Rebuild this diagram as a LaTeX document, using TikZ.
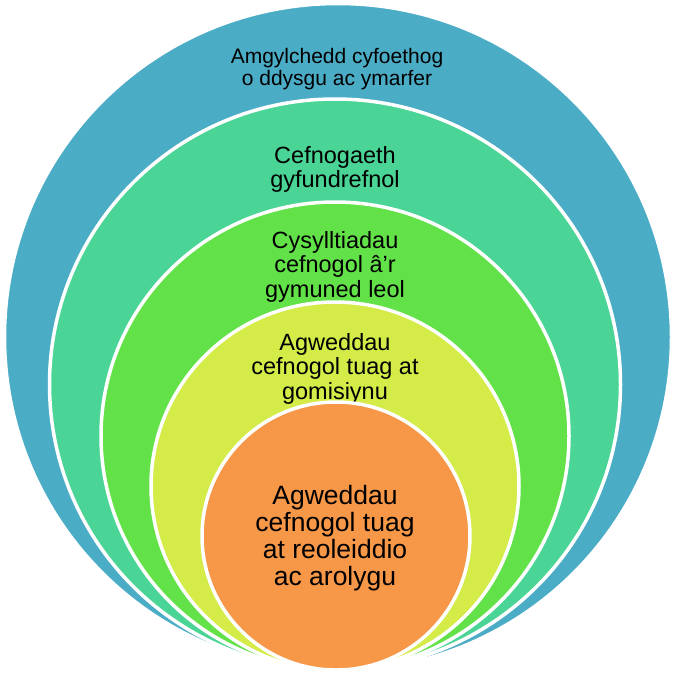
\documentclass[tikz,border=0pt]{standalone}
\usepackage{fontspec}
\setmainfont{Liberation Sans}
\usepackage{tikz}
\usetikzlibrary{positioning}
\usepackage{xcolor}
\definecolor{ringblue}{RGB}{75,172,198}
\definecolor{ringteal}{RGB}{74,212,149}
\definecolor{ringgreen}{RGB}{98,226,72}
\definecolor{ringlime}{RGB}{212,235,72}
\definecolor{ringorange}{RGB}{247,151,72}

\begin{document}
\begin{tikzpicture}[
  x=1pt, y=-1pt,
  ring/.style={circle, draw=white, line width=3.5pt, inner sep=0pt},
  lbl/.style={align=center, anchor=base, inner sep=0pt, text=black},
  small/.style={font=\fontsize{21}{22.5}\selectfont},
  mid/.style={font=\fontsize{23.5}{24.5}\selectfont},
  big/.style={font=\fontsize{26.5}{27}\selectfont},
]
  \useasboundingbox (0,0) rectangle (675,673);

  % rings, drawn from the outside in so each one covers the last
  % (labels sit on the baseline of their last line)
  \node[ring, fill=ringblue, minimum size=667pt] (env) at (338,337) {};
  \node[lbl, small] (envtxt) at (337,85.5) {Amgylchedd cyfoethog\\o ddysgu ac ymarfer};

  \node[ring, fill=ringteal, minimum size=571pt] (sys) at (335,384.5) {};
  \node[lbl, mid] (systxt) at (335,187.5) {Cefnogaeth\\gyfundrefnol};

  \node[ring, fill=ringgreen, minimum size=468pt] (comm) at (335,436) {};
  \node[lbl, mid] (commtxt) at (335,297) {Cysylltiadau\\cefnogol â’r\\gymuned leol};

  \node[ring, fill=ringlime, minimum size=368pt] (cmsn) at (335,486) {};
  \node[lbl, mid] (cmsntxt) at (335,399) {Agweddau\\cefnogol tuag at\\gomisiynu};

  \node[ring, fill=ringorange, minimum size=268pt] (insp) at (336,536) {};
  \node[lbl, big] (insptxt) at (335,585) {Agweddau\\cefnogol tuag\\at reoleiddio\\ac arolygu};
\end{tikzpicture}
\end{document}
